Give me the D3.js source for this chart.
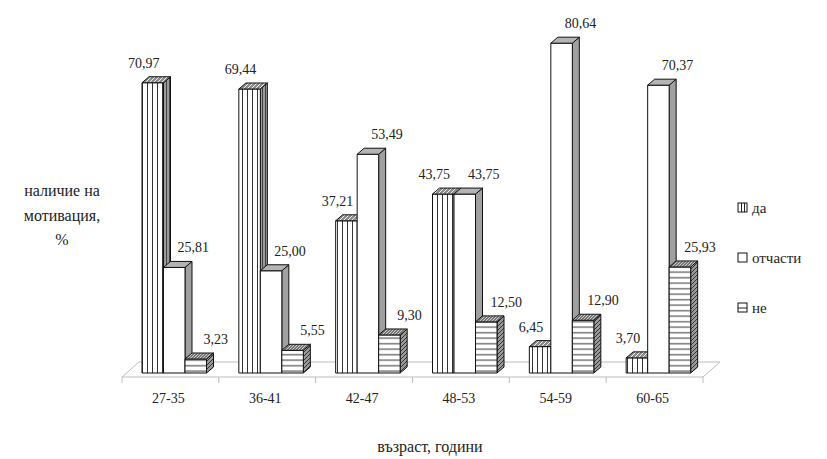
<!DOCTYPE html>
<html>
<head>
<meta charset="utf-8">
<script src="https://cdn.jsdelivr.net/npm/d3@7"></script>
<style>
  body { margin: 0; background: #fff; }
</style>
</head>
<body>
<script>
// age groups and share of answers (%)
var categories = ["27-35", "36-41", "42-47", "48-53", "54-59", "60-65"]
var seriesNames = ["да", "отчасти", "не"]
var valuesDa = [70.97, 69.44, 37.21, 43.75, 6.45, 3.70]
var valuesOtchasti = [25.81, 25.00, 53.49, 43.75, 80.64, 70.37]
var valuesNe = [3.23, 5.55, 9.30, 12.50, 12.90, 25.93]
var yTitle = ["наличие на", "мотивация,", "%"]
var xTitle = "възраст, години"

var allSeries = [valuesDa, valuesOtchasti, valuesNe]
var width = 827, height = 459
var serif = "'Liberation Serif', 'DejaVu Serif', serif"

var svg = d3.select("body").append("svg")
            .attr("width", width)
            .attr("height", height)
            .attr("font-family", serif)

// patterns for the bar faces
var defs = svg.append("defs")
const addPattern = function(id, w, h, bg, lines, stroke){
  var p = defs.append("pattern")
              .attr("id", id)
              .attr("patternUnits", "userSpaceOnUse")
              .attr("width", w)
              .attr("height", h)
  p.append("rect").attr("width", w).attr("height", h).attr("fill", bg)
  lines.forEach(function(l){
    p.append("line")
     .attr("x1", l[0]).attr("y1", l[1]).attr("x2", l[2]).attr("y2", l[3])
     .attr("stroke", stroke).attr("stroke-width", 1)
  })
}
addPattern("vFront", 5, 5, "#fff", [[2.5, 0, 2.5, 5]], "#333")
addPattern("vSide", 3, 3, "#9a9a9a", [[1.5, 0, 1.5, 3]], "#444")
addPattern("vTop", 4, 4, "#8a8a8a", [[0, 4, 4, 0]], "#eee")
addPattern("hFront", 6, 5.5, "#fff", [[0, 2.7, 6, 2.7]], "#333")
addPattern("hSide", 4, 4, "#9a9a9a", [[0, 4, 4, 0]], "#333")
addPattern("hTop", 3, 3, "#777", [[0, 3, 3, 0]], "#ccc")
addPattern("legV", 10, 10, "#fff", [[3.5, 0, 3.5, 10], [6.5, 0, 6.5, 10]], "#222")
addPattern("legH", 10, 10, "#fff", [[0, 5, 10, 5]], "#222")

var faces = [
  {front: "url(#vFront)", side: "url(#vSide)", top: "url(#vTop)", legend: "url(#legV)"},
  {front: "#fff", side: "#a0a0a0", top: "#b4b4b4", legend: "#fff"},
  {front: "url(#hFront)", side: "url(#hSide)", top: "url(#hTop)", legend: "url(#legH)"}
]

var plot = {left: 122, right: 703, floorFront: 377, base: 373}
var depth = {dx: 7, dy: 6}
var floorDepth = {dx: 17, dy: 15}

var x = d3.scaleBand()
          .domain(categories)
          .range([plot.left, plot.right])
var y = d3.scaleLinear()
          .domain([0, 90])
          .range([plot.base, plot.base - 4.09 * 90])

var barW = 21.5
var barStart = 20
var labelShift = [-9, 19, 20]

// floor
var floor = svg.append("g").attr("stroke", "#bdbdbd").attr("fill", "none")
floor.append("polygon")
     .attr("points", [
       [plot.left, plot.floorFront],
       [plot.right, plot.floorFront],
       [plot.right + floorDepth.dx, plot.floorFront - floorDepth.dy],
       [plot.left + floorDepth.dx, plot.floorFront - floorDepth.dy]
     ].map(function(p){ return p.join(",") }).join(" "))
var tickXs = categories.map(function(c){ return x(c) }).concat([plot.right])
floor.selectAll("line.tick")
     .data(tickXs)
     .enter()
     .append("line")
     .attr("x1", function(d){ return d })
     .attr("x2", function(d){ return d })
     .attr("y1", plot.floorFront)
     .attr("y2", plot.floorFront + 6)

// bars
var bars = svg.append("g").attr("stroke", "#111").attr("stroke-width", 1).attr("stroke-linejoin", "round")
var labelData = []
categories.forEach(function(cat, ci){
  allSeries.forEach(function(vals, si){
    var v = vals[ci]
    var x0 = x(cat) + barStart + si * barW
    var x1 = x0 + barW
    // very short bars keep a small visible height
    var yt = Math.min(y(v), plot.base - 14)
    var yb = plot.base
    var f = faces[si]
    var g = bars.append("g")
    g.append("polygon")
     .attr("fill", f.side)
     .attr("points", [[x1, yb], [x1 + depth.dx, yb - depth.dy], [x1 + depth.dx, yt - depth.dy], [x1, yt]].join(" "))
    g.append("rect")
     .attr("x", x0).attr("y", yt)
     .attr("width", barW).attr("height", yb - yt)
     .attr("fill", f.front)
    g.append("polygon")
     .attr("fill", f.top)
     .attr("points", [[x0, yt], [x0 + depth.dx, yt - depth.dy], [x1 + depth.dx, yt - depth.dy], [x1, yt]].join(" "))
    labelData.push({x: (x0 + x1) / 2 + labelShift[si], y: yt - depth.dy - 9, v: v})
  })
})

svg.append("g").selectAll("text")
   .data(labelData)
   .enter()
   .append("text")
   .attr("x", function(d){ return d.x })
   .attr("y", function(d){ return d.y })
   .attr("text-anchor", "middle")
   .attr("font-size", 14)
   .attr("fill", "#222")
   .text(function(d){ return d.v.toFixed(2).replace(".", ",") })

// category labels
svg.append("g").selectAll("text")
   .data(categories)
   .enter()
   .append("text")
   .attr("x", function(d){ return x(d) + x.bandwidth() / 2 - 2 })
   .attr("y", 403)
   .attr("text-anchor", "middle")
   .attr("font-size", 14)
   .attr("fill", "#222")
   .text(function(d){ return d })

// axis titles
svg.append("text")
   .attr("x", 430)
   .attr("y", 452)
   .attr("text-anchor", "middle")
   .attr("font-size", 16)
   .attr("fill", "#222")
   .text(xTitle)

svg.append("g").selectAll("text")
   .data(yTitle)
   .enter()
   .append("text")
   .attr("x", 62)
   .attr("y", function(d, i){ return 196 + i * 24.5 })
   .attr("text-anchor", "middle")
   .attr("font-size", 16)
   .attr("fill", "#222")
   .text(function(d){ return d })

// legend
var legend = svg.append("g").selectAll("g")
                .data(seriesNames)
                .enter()
                .append("g")
                .attr("transform", function(d, i){ return "translate(738," + (203 + i * 50) + ")" })
legend.append("rect")
      .attr("width", 9).attr("height", 9)
      .attr("fill", function(d, i){ return faces[i].legend })
      .attr("stroke", "#111")
legend.append("text")
      .attr("x", 14)
      .attr("y", 10)
      .attr("font-size", 15)
      .attr("fill", "#222")
      .text(function(d){ return d })
</script>
</body>
</html>
